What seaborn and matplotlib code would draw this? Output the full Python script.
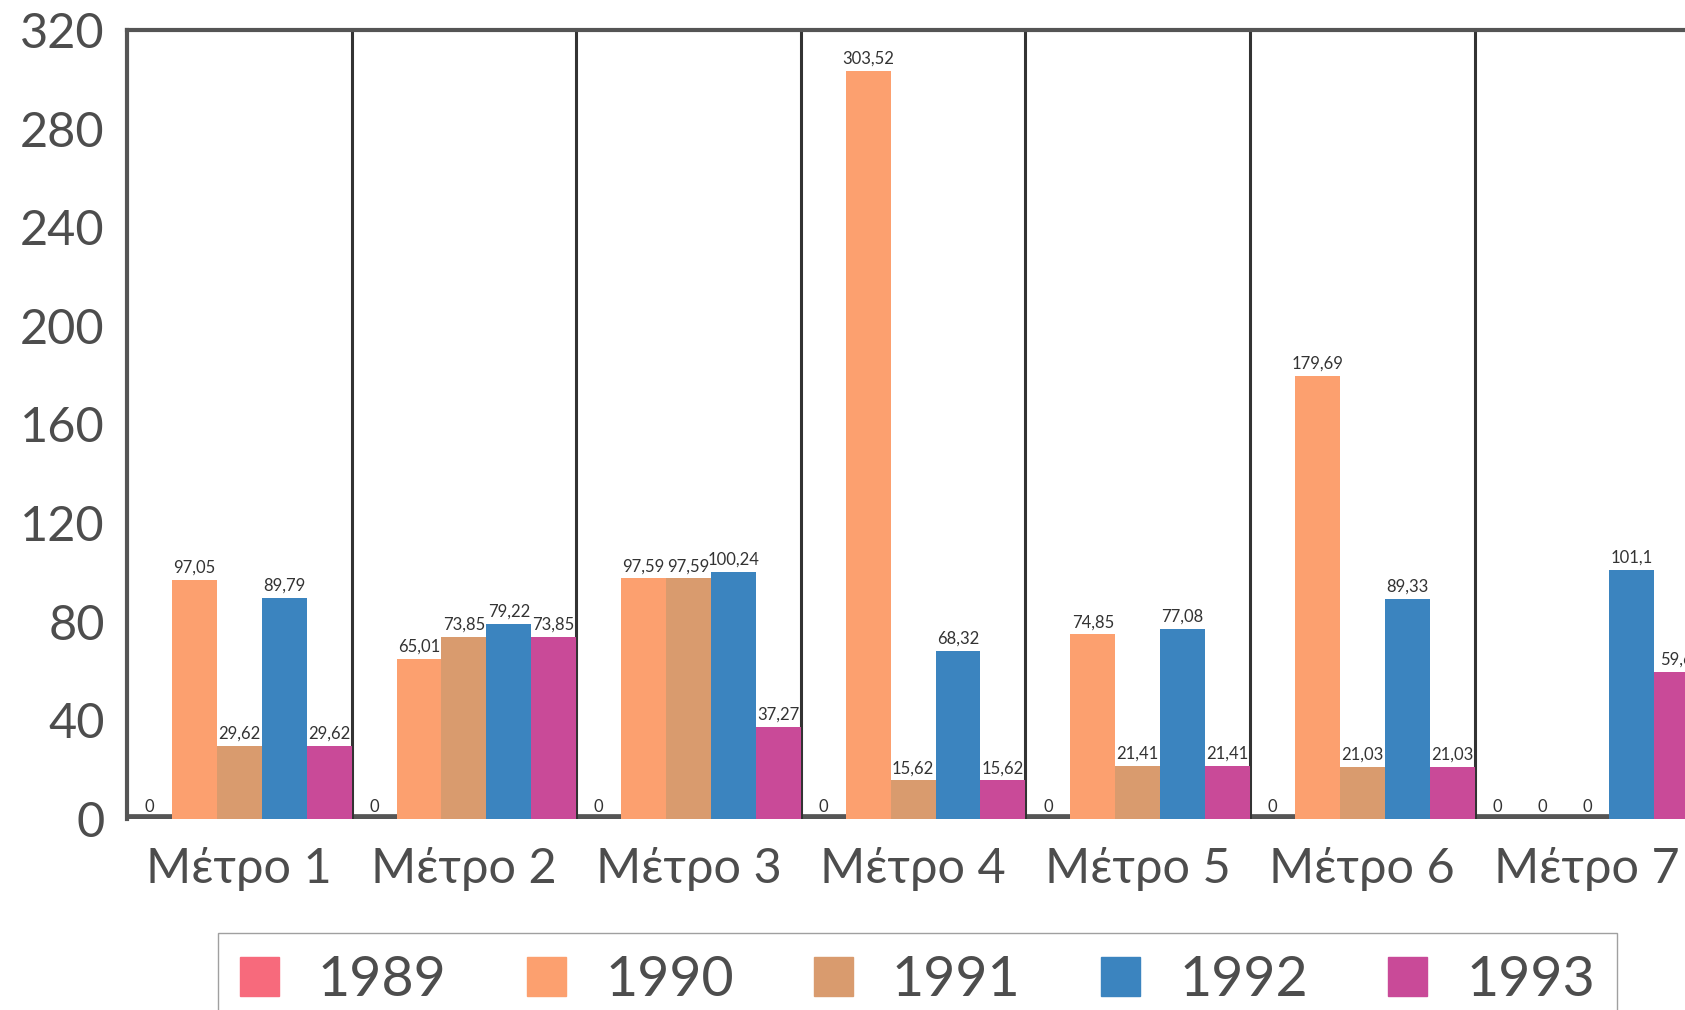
import matplotlib
matplotlib.use('Agg')
import matplotlib.pyplot as plt
import pandas as pd
import seaborn as sns

# data
metra = ['Μέτρο 1', 'Μέτρο 2', 'Μέτρο 3', 'Μέτρο 4', 'Μέτρο 5', 'Μέτρο 6', 'Μέτρο 7']
years = ['1989', '1990', '1991', '1992', '1993']
v1989 = [0, 0, 0, 0, 0, 0, 0]
v1990 = [97.05, 65.01, 97.59, 303.52, 74.85, 179.69, 0]
v1991 = [29.62, 73.85, 97.59, 15.62, 21.41, 21.03, 0]
v1992 = [89.79, 79.22, 100.24, 68.32, 77.08, 89.33, 101.1]
v1993 = [29.62, 73.85, 37.27, 15.62, 21.41, 21.03, 59.6]
yticks = [0, 40, 80, 120, 160, 200, 240, 280, 320]

colors = ['#f76a7c', '#fca06f', '#d99b6e', '#3b84bf', '#c94a98']
text_color = '#4d4d4d'

rows = []
for year, vals in zip(years, [v1989, v1990, v1991, v1992, v1993]):
    for m, v in zip(metra, vals):
        rows.append({'metro': m, 'year': year, 'value': v})
df = pd.DataFrame(rows)

sns.set_style('white')
plt.rcParams['font.family'] = ['Lato', 'DejaVu Sans']

fig = plt.figure(figsize=(16.85, 10.10), dpi=100)
# the plot area runs a little past the right edge, as in the original scan
ax = fig.add_axes([127 / 1685, 1 - 819 / 1010, 7 * 224.6 / 1685, (819 - 30) / 1010])

sns.barplot(data=df, x='metro', y='value', hue='year', palette=colors, width=1.0,
            saturation=1, errorbar=None, ax=ax, legend=False, zorder=3, linewidth=0)

# value labels with comma decimal separator
for cont, vals in zip(ax.containers, [v1989, v1990, v1991, v1992, v1993]):
    labels = [('%g' % v).replace('.', ',') for v in vals]
    ax.bar_label(cont, labels=labels, padding=3, fontsize=12, color='#333333')

ax.set_xlim(-0.5, 6.5)
ax.set_ylim(0, 320)
ax.set_yticks(yticks)
ax.set_xlabel('')
ax.set_ylabel('')

# group separators
for x in range(7):
    ax.axvline(x + 0.5, color='#333333', lw=2.2, zorder=2)

# floor
ax.axhline(0, color='#555555', lw=7, zorder=1)

for side in ['left', 'top']:
    ax.spines[side].set_color('#555555')
    ax.spines[side].set_linewidth(3)
for side in ['right', 'bottom']:
    ax.spines[side].set_visible(False)

ax.tick_params(axis='y', length=0, pad=16, labelsize=35, labelcolor=text_color)
ax.tick_params(axis='x', length=0, pad=20, labelsize=35, labelcolor=text_color)

# legend, stretched to the width of its frame
handles = [plt.Rectangle((0, 0), 1, 1, color=c) for c in colors]
fig.legend(handles, years, loc='upper left',
           bbox_to_anchor=(218 / 1685, 1 - 933 / 1010, 1399 / 1685, 0.0), mode='expand',
           ncol=5, fontsize=40, frameon=True, fancybox=False, edgecolor='#888888',
           handlelength=0.7, handleheight=0.7, handletextpad=0.7, columnspacing=1.3,
           labelcolor=text_color, borderpad=0.4, borderaxespad=0)

plt.savefig('out.png', dpi=100)
